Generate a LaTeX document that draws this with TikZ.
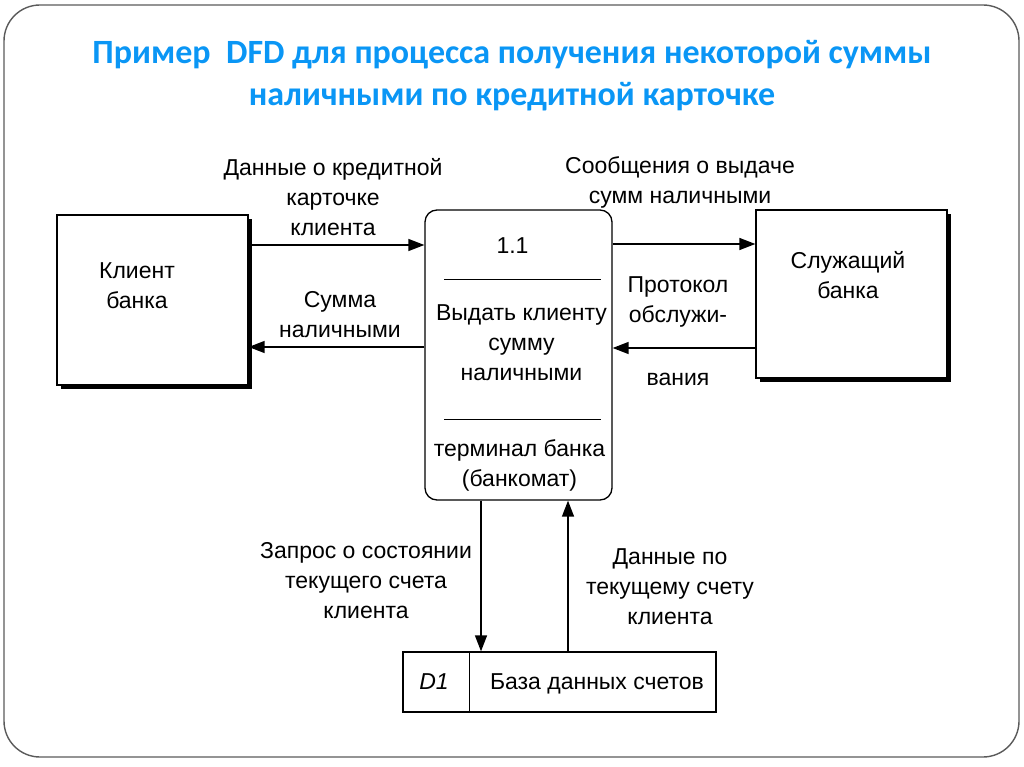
\documentclass[tikz,border=0pt]{standalone}
\usepackage{fontspec}
\setmainfont{Liberation Sans}
\newfontfamily\titlefont{Carlito}
\definecolor{TitleBlue}{RGB}{10,150,245}
\definecolor{FrameGray}{RGB}{90,90,90}
\usetikzlibrary{arrows.meta,positioning,calc,shadows}

\begin{document}
\begin{tikzpicture}[x=1pt,y=-1pt,
  ent/.style={draw,line width=1.3pt,fill=white,
              minimum width=191pt,minimum height=170pt,
              drop shadow={shadow xshift=4pt,shadow yshift=-4pt,
                           fill=black,opacity=1}},
  proc/.style={draw,line width=1.3pt,rounded corners=12pt,
               minimum width=187pt,minimum height=290pt},
  store/.style={draw,line width=1.3pt,minimum width=313pt,minimum height=60pt},
  flow/.style={line width=1.4pt,-{Triangle[length=16pt,width=12pt]}},
  lbl/.style={align=center,font=\fontsize{23}{30}\selectfont,inner sep=0pt},
  ttl/.style={align=center,text=TitleBlue,
              font=\titlefont\bfseries\fontsize{34}{42}\selectfont}]
  \useasboundingbox (0,0) rectangle (1024,767);
  \draw[FrameGray,line width=1.4pt,rounded corners=36pt] (4,5) rectangle (1019,757);

  % title
  \node[ttl] (title) at (512,76)
       {Пример\ \ DFD для процесса получения некоторой суммы\\
        наличными по кредитной карточке};

  % external entities, process, data store
  \node[ent] (C) at (152.5,300) {};
  \node[lbl] at (137,286) {Клиент\\банка};
  \node[ent,minimum height=168pt] (E) at (851.5,294) {};
  \node[lbl] at (848,275) {Служащий\\банка};
  \node[proc] (P) at (518.5,355) {};
  \node[lbl] (num) at ($(P.north)+(-6,36)$) {1.1};
  \node[lbl] (act) at ($(P.north)+(3,133)$) {Выдать клиенту\\сумму\\наличными};
  \node[lbl] (dev) at ($(P.north)+(1,256)$) {терминал банка\\(банкомат)};
  \draw[line width=1.2pt] ($(P.north west)+(20,70)$) -- ($(P.north east)+(-12,70)$);
  \draw[line width=1.2pt] ($(P.north west)+(20,210)$) -- ($(P.north east)+(-12,210)$);
  \node[store] (D) at (559.5,682) {};
  \draw[line width=1.2pt] ($(D.north west)+(67,0)$) -- ($(D.south west)+(67,0)$);
  \node[lbl,font=\itshape\fontsize{23}{30}\selectfont] (id) at (434,682) {D1};
  \node[lbl] (dbname) at (597,684) {База данных счетов};

  % flows
  \draw[flow] ([yshift=55pt]C.east) -- ([yshift=55pt]C.east -| P.west);
  \draw[flow] ([yshift=8pt]P.west) -- ([yshift=8pt]P.west -| C.east);
  \draw[flow] ([yshift=111pt]P.east) -- ([yshift=111pt]P.east -| E.west);
  \draw[flow] ([yshift=-54pt]E.west) -- ([yshift=-54pt]E.west -| P.east);
  \draw[flow] ([xshift=-37.5pt]P.south) -- ([xshift=-37.5pt]P.south |- D.north);
  \draw[flow] ([xshift=49.5pt]D.north -| P.south) -- ([xshift=49.5pt]P.south);

  % flow labels
  \node[lbl] at (333,197) {Данные о кредитной\\карточке\\клиента};
  \node[lbl] at (340,315) {Сумма\\наличными};
  \node[lbl] at (680,182) {Сообщения о выдаче\\сумм наличными};
  \node[lbl] at (678,331) {Протокол\\обслужи-\\[33pt]вания};
  \node[lbl] at (366,581) {Запрос о состоянии\\текущего счета\\клиента};
  \node[lbl] at (670,587) {Данные по\\текущему счету\\клиента};
\end{tikzpicture}
\end{document}
